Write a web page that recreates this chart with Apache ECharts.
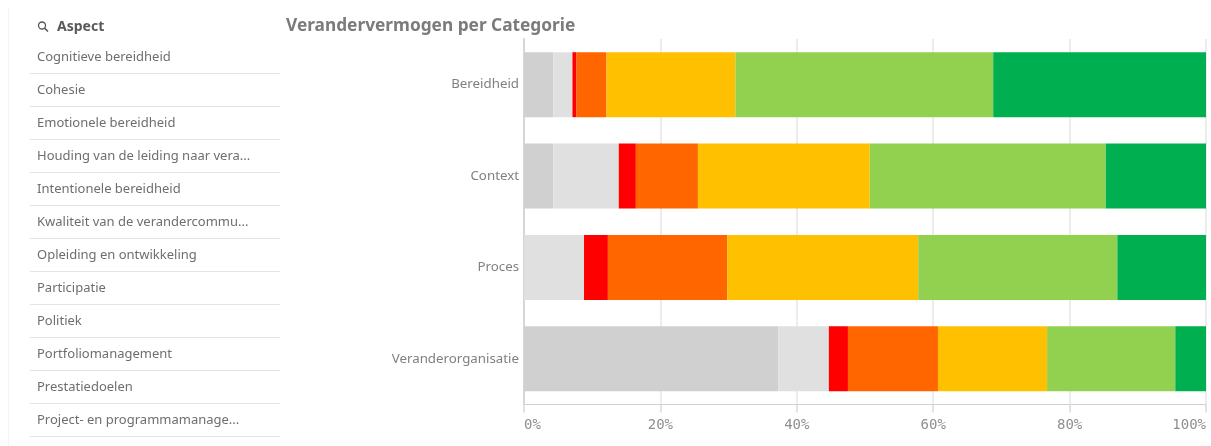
<!DOCTYPE html>
<html>
<head>
<meta charset="utf-8">
<title>Verandervermogen per Categorie</title>
<script src="https://cdn.jsdelivr.net/npm/echarts@6/dist/echarts.min.js"></script>
<style>
  html, body { margin: 0; padding: 0; background: #fff; }
  #chart { width: 1211px; height: 446px; }
</style>
</head>
<body>
<div id="chart"></div>
<script>
const categories = ['Bereidheid', 'Context', 'Proces', 'Veranderorganisatie'];

// one list per colour band, in the order they stack
const grey1 = [4.3, 4.3, 0, 37.3];
const grey2 = [2.8, 9.6, 8.8, 7.4];
const red = [0.6, 2.5, 3.5, 2.8];
const orange = [4.4, 9.1, 17.5, 13.2];
const yellow = [18.9, 25.2, 28.0, 16.0];
const lightGreen = [37.8, 34.6, 29.2, 18.8];
const darkGreen = [31.2, 14.7, 13.0, 4.5];

const aspects = [
  'Cognitieve bereidheid',
  'Cohesie',
  'Emotionele bereidheid',
  'Houding van de leiding naar vera...',
  'Intentionele bereidheid',
  'Kwaliteit van de verandercommu...',
  'Opleiding en ontwikkeling',
  'Participatie',
  'Politiek',
  'Portfoliomanagement',
  'Prestatiedoelen',
  'Project- en programmamanage...'
];

const bands = [
  { name: 'Grijs 1', values: grey1, color: '#d0d0d0' },
  { name: 'Grijs 2', values: grey2, color: '#e0e0e0' },
  { name: 'Rood', values: red, color: '#ff0000' },
  { name: 'Oranje', values: orange, color: '#ff6600' },
  { name: 'Geel', values: yellow, color: '#ffc000' },
  { name: 'Lichtgroen', values: lightGreen, color: '#92d050' },
  { name: 'Groen', values: darkGreen, color: '#00b050' }
];

// filter list on the left
const listGraphics = [
  { type: 'line', shape: { x1: 8.5, y1: 8, x2: 8.5, y2: 446 }, style: { stroke: '#f4f4f4', lineWidth: 1 } },
  { type: 'circle', shape: { cx: 42, cy: 25.5, r: 3.5 }, style: { fill: 'none', stroke: '#555', lineWidth: 1.3 } },
  { type: 'line', shape: { x1: 44.6, y1: 28.1, x2: 48, y2: 31.5 }, style: { stroke: '#555', lineWidth: 1.5 } },
  {
    type: 'text', x: 57, y: 27,
    style: { text: 'Aspect', fill: '#595959', font: 'bold 14px "Noto Sans"', textVerticalAlign: 'middle' }
  }
];
aspects.forEach((label, i) => {
  listGraphics.push({
    type: 'text', x: 37, y: 57 + i * 33,
    style: { text: label, fill: '#6e6e6e', font: '13px "Noto Sans"', textVerticalAlign: 'middle' }
  });
  listGraphics.push({
    type: 'line',
    shape: { x1: 30, y1: 73.5 + i * 33, x2: 280, y2: 73.5 + i * 33 },
    style: { stroke: '#e3e3e3', lineWidth: 1 }
  });
});

const chart = echarts.init(document.getElementById('chart'));
chart.setOption({
  animation: false,
  backgroundColor: '#fff',
  title: {
    text: 'Verandervermogen per Categorie',
    left: 286,
    top: 18,
    padding: 0,
    textStyle: { fontFamily: 'Noto Sans', fontSize: 17.3, fontWeight: 'bold', color: '#7b7b7b' }
  },
  grid: { left: 524, right: 5, top: 39, bottom: 41.5 },
  xAxis: {
    type: 'value',
    min: 0,
    max: 100,
    interval: 20,
    axisLine: { show: true, lineStyle: { color: '#cfcfcf' } },
    axisTick: { show: true, length: 8, lineStyle: { color: '#e2e2e2', width: 2 } },
    splitLine: { show: true, lineStyle: { color: '#ececec', width: 2 } },
    axisLabel: {
      formatter: '{value}%',
      fontFamily: 'DejaVu Sans Mono',
      fontSize: 14,
      color: '#8f8f8f',
      margin: 14,
      alignMinLabel: 'left',
      alignMaxLabel: 'right'
    }
  },
  yAxis: {
    type: 'category',
    inverse: true,
    data: categories,
    axisLine: { show: true, lineStyle: { color: '#d6d6d6', width: 2 } },
    axisTick: { show: false },
    axisLabel: { fontFamily: 'Noto Sans', fontSize: 13.3, color: '#808080', margin: 5 }
  },
  series: bands.map((b) => ({
    name: b.name,
    type: 'bar',
    stack: 'totaal',
    barWidth: 65,
    data: b.values,
    itemStyle: { color: b.color }
  })),
  graphic: { elements: listGraphics }
});
</script>
</body>
</html>
